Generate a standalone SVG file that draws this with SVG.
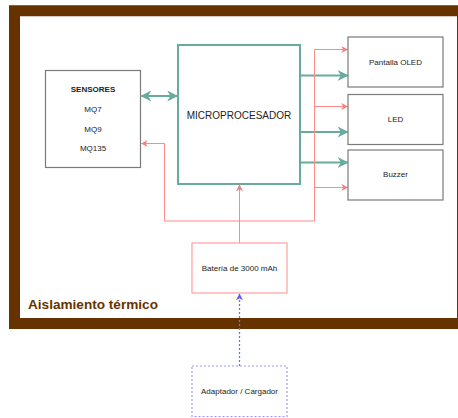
<svg xmlns="http://www.w3.org/2000/svg" width="458" height="418" viewBox="0 0 458 418">
<defs>
<style>
.t{font-family:"Liberation Sans",Arial,sans-serif;fill:#222;text-anchor:middle}
.s8{font-size:8px}
.box{fill:#fff;stroke:#7a7a7a;stroke-width:1.2}
.teal{fill:none;stroke:#67AB9F;stroke-width:2}
.red{fill:none;stroke:#FF8A8A;stroke-width:1}
</style>
<marker id="tb" viewBox="0 0 10 10" refX="9" refY="5" markerWidth="11" markerHeight="11" markerUnits="userSpaceOnUse" orient="auto-start-reverse">
<path d="M0,0 L10,5 L0,10 L3,5 Z" fill="#67AB9F"/>
</marker>
<marker id="ra" viewBox="0 0 10 10" refX="9" refY="5" markerWidth="7" markerHeight="7" markerUnits="userSpaceOnUse" orient="auto">
<path d="M0,0 L10,5 L0,10 L3,5 Z" fill="#FF7A7A"/>
</marker>
<marker id="ba" viewBox="0 0 10 10" refX="9" refY="5" markerWidth="7" markerHeight="7" markerUnits="userSpaceOnUse" orient="auto">
<path d="M0,0 L10,5 L0,10 L3,5 Z" fill="#5A5AFF"/>
</marker>
</defs>
<rect width="458" height="418" fill="#fff"/>
<g id="aislamiento">
<rect x="14.5" y="10.75" width="448" height="312.75" fill="none" stroke="#663300" stroke-width="11"/>
<text x="28" y="309" style="font-family:'Liberation Sans',Arial,sans-serif;font-weight:bold;font-size:13.6px;fill:#663300">Aislamiento térmico</text>
</g>
<g id="connectors">
<line x1="141.5" y1="96" x2="177" y2="96" class="teal" marker-start="url(#tb)" marker-end="url(#tb)"/>
<line x1="301" y1="75.5" x2="347.5" y2="75.5" class="teal" marker-end="url(#tb)"/>
<line x1="301" y1="132" x2="347.5" y2="132" class="teal" marker-end="url(#tb)"/>
<line x1="301" y1="162.5" x2="347.5" y2="162.5" class="teal" marker-end="url(#tb)"/>
<path d="M239.5,243 V185" class="red" marker-end="url(#ra)"/>
<path d="M239.5,243 V221 H164.5 V143.5 H141.5" class="red" marker-end="url(#ra)"/>
<path d="M239.5,243 V221 H314.5 V49.5 H347.5" class="red" marker-end="url(#ra)"/>
<path d="M314.5,106.5 H347.5" class="red" marker-end="url(#ra)"/>
<path d="M314.5,187.5 H347.5" class="red" marker-end="url(#ra)"/>
<path d="M239.5,366 V294" fill="none" stroke="#6E6EFF" stroke-width="1.3" stroke-dasharray="2,2" marker-end="url(#ba)"/>
</g>
<g id="sensores">
<rect x="45.5" y="70.5" width="95" height="97" class="box"/>
<text x="93" y="92" class="t s8" font-weight="bold">SENSORES</text>
<text x="93" y="112" class="t s8">MQ7</text>
<text x="93" y="131.5" class="t s8">MQ9</text>
<text x="93" y="150.5" class="t s8">MQ135</text>
</g>
<g id="microprocesador">
<rect x="178" y="45" width="122" height="139" fill="#fff" stroke="#67AB9F" stroke-width="2"/>
<text x="239" y="118.5" class="t" font-size="10px">MICROPROCESADOR</text>
</g>
<g id="pantalla">
<rect x="348" y="37" width="95" height="50" class="box"/>
<text x="395.5" y="64.5" class="t s8">Pantalla OLED</text>
</g>
<g id="led">
<rect x="348" y="94.5" width="95" height="50" class="box"/>
<text x="395.5" y="122" class="t s8">LED</text>
</g>
<g id="buzzer">
<rect x="348" y="150" width="95" height="50" class="box"/>
<text x="395.5" y="177" class="t s8">Buzzer</text>
</g>
<g id="bateria">
<rect x="192" y="243" width="95" height="50" fill="#fff" stroke="#FFA0A0" stroke-width="1.2"/>
<text x="239.5" y="270.5" class="t s8">Batería de 3000 mAh</text>
</g>
<g id="adaptador">
<rect x="192" y="366" width="95" height="50.5" fill="#fff" stroke="#9999FF" stroke-width="1.2" stroke-dasharray="2,2"/>
<text x="239.5" y="394" class="t s8">Adaptador / Cargador</text>
</g>
</svg>
